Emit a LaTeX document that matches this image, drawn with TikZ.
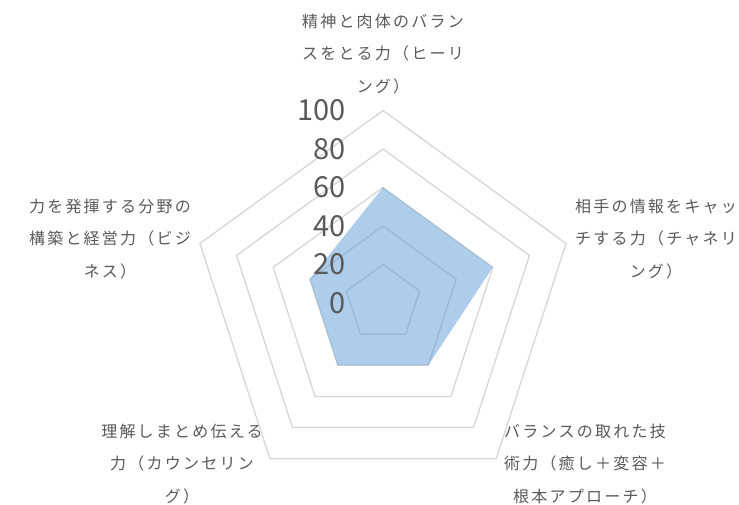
\documentclass[tikz,border=0pt]{standalone}
\usepackage{fontspec}
\setmainfont{Noto Sans CJK JP}
\newfontfamily\labelfont[LetterSpace=14]{Noto Sans CJK JP}
\usetikzlibrary{calc}
\definecolor{gridcol}{RGB}{214,214,214}
\definecolor{txtcol}{RGB}{89,89,89}
\definecolor{datacol}{RGB}{91,155,213}
% pentagon of radius #1 round the centre (O)
\newcommand{\pentagon}[1]{($(O)+(90:#1)$) -- ($(O)+(18:#1)$) -- ($(O)+(-54:#1)$) -- ($(O)+(-126:#1)$) -- ($(O)+(162:#1)$) -- cycle}

\begin{document}
\begin{tikzpicture}[x=1pt, y=1pt]
\tikzstyle{gridline}=[line width=1.3pt, gridcol, line join=miter]
\tikzstyle{datafill}=[fill=datacol, fill opacity=0.5, draw=none]
\tikzstyle{axlabel}=[txtcol, align=center, font=\labelfont\fontsize{16}{32.5}\selectfont]
\tikzstyle{ticklabel}=[txtcol, anchor=east, inner sep=0pt, font=\fontsize{29}{29}\selectfont]

\useasboundingbox (0,0) rectangle (739,505);
\coordinate (O) at (383,202);

% grid, one pentagon every 20
\draw[gridline] \pentagon{38.5};
\draw[gridline] \pentagon{77};
\draw[gridline] \pentagon{115.5};
\draw[gridline] \pentagon{154};
\draw[gridline] \pentagon{192.5};

% data: 60, 60, 40, 40, 40
\coordinate (dHeal) at ($(O)+(90:115.5)$);
\coordinate (dChan) at ($(O)+(18:115.5)$);
\coordinate (dTech) at ($(O)+(-54:77)$);
\coordinate (dCoun) at ($(O)+(-126:77)$);
\coordinate (dBiz) at ($(O)+(162:77)$);
\fill[datafill] (dHeal) -- (dChan) -- (dTech) -- (dCoun) -- (dBiz) -- cycle;

% scale
\node[ticklabel] (t0) at (346,202) {0};
\node[ticklabel] (t20) at (346,240.5) {20};
\node[ticklabel] (t40) at (346,279) {40};
\node[ticklabel] (t60) at (346,317.5) {60};
\node[ticklabel] (t80) at (346,356) {80};
\node[ticklabel] (t100) at (346,394.5) {100};

% axis names
\node[axlabel] (heal) at (383,451) {精神と肉体のバラン\\スをとる力（ヒーリ\\ング）};
\node[axlabel] (chan) at (656,266) {相手の情報をキャッ\\チする力（チャネリ\\ング）};
\node[axlabel] (tech) at (585,41) {バランスの取れた技\\術力（癒し＋変容＋\\根本アプローチ）};
\node[axlabel] (coun) at (182,41) {理解しまとめ伝える\\力（カウンセリン\\グ）};
\node[axlabel] (biz) at (110,266) {力を発揮する分野の\\構築と経営力（ビジ\\ネス）};
\end{tikzpicture}
\end{document}
